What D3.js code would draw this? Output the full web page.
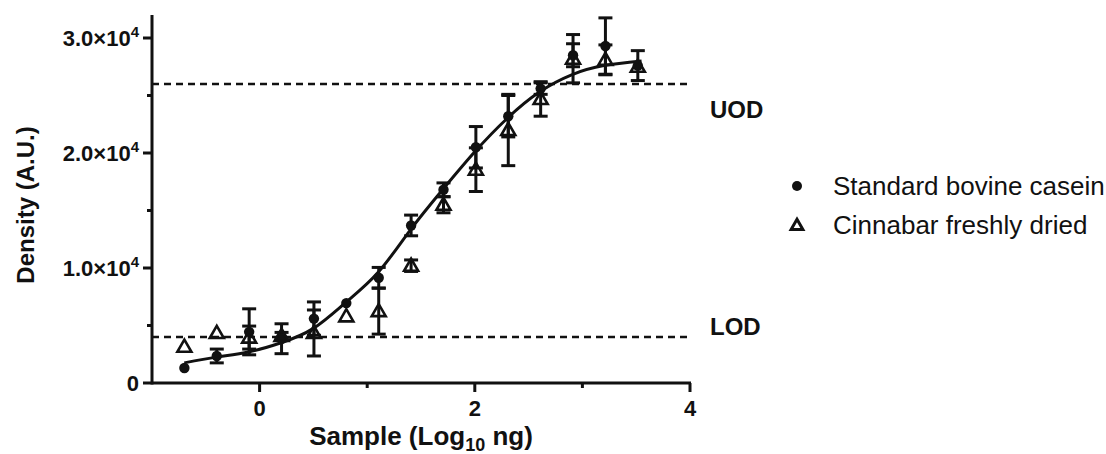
<html lang="en">
<head>
<meta charset="UTF-8">
<title>Density vs sample</title>
<style>
  body { margin: 0; background: #fff; }
  svg { display: block; }
  text { font-family: "Liberation Sans", Arial, sans-serif; fill: #111; }
</style>
</head>
<body>
<svg id="chart" width="1106" height="454"></svg>
<script src="https://d3js.org/d3.v7.min.js"></script>
<script>
// sample amounts, log10 ng
const sampleLog = [-0.699, -0.398, -0.097, 0.204, 0.505, 0.806, 1.107, 1.408, 1.709, 2.010, 2.311, 2.612, 2.913, 3.214, 3.515];
// standard bovine casein (mean, sd)
const caseinMean = [1300, 2350, 4450, 3850, 5600, 6950, 9150, 13700, 16800, 20500, 23200, 25600, 28500, 29300, 27600];
const caseinSD   = [0, 600, 2000, 1300, 1450, 0, 900, 900, 600, 1800, 1800, 500, 1000, 2450, 1300];
// cinnabar freshly dried (mean, sd)
const cinnabarMean = [3150, 4350, 3950, 4100, 4350, 5800, 6250, 10200, 15500, 18550, 22000, 24700, 28200, 28100, 27500];
const cinnabarSD   = [0, 0, 1000, 300, 2000, 0, 2000, 500, 700, 1900, 3100, 1500, 2100, 1300, 0];
// fitted curve
const fitX = [-0.70, -0.40, -0.10, 0.20, 0.50, 0.80, 1.10, 1.40, 1.70, 2.00, 2.30, 2.60, 2.90, 3.20, 3.55];
const fitY = [1750, 2250, 2700, 3500, 4750, 7000, 9600, 13300, 16800, 20100, 23000, 25300, 26800, 27600, 28000];
// limits
const limitNames = ["UOD", "LOD"];
const limitValues = [26000, 4000];
// ticks
const yMajor = [0, 10000, 20000, 30000];
const yMinor = [5000, 15000, 25000];
const xMajor = [0, 2, 4];
const xMinor = [1, 3];
const seriesNames = ["Standard bovine casein", "Cinnabar freshly dried"];

const svg = d3.select('#chart');
const x = d3.scaleLinear().domain([-1.0, 4]).range([152, 690]);
const y = d3.scaleLinear().domain([0, 32000]).range([383, 15]);
const SW = 3;

// axes
const g = svg.append('g');
g.append('line').attr('x1', x(-1)).attr('x2', x(-1)).attr('y1', y(32000)).attr('y2', y(0) + SW / 2)
  .attr('stroke', '#111').attr('stroke-width', SW);
g.append('line').attr('x1', x(-1)).attr('x2', x(4) + 1).attr('y1', y(0)).attr('y2', y(0))
  .attr('stroke', '#111').attr('stroke-width', SW);

g.selectAll('.ytick').data(yMajor).join('line')
  .attr('x1', x(-1) - 9).attr('x2', x(-1)).attr('y1', d => y(d)).attr('y2', d => y(d))
  .attr('stroke', '#111').attr('stroke-width', SW);
g.selectAll('.yminor').data(yMinor).join('line')
  .attr('x1', x(-1) - 5).attr('x2', x(-1)).attr('y1', d => y(d)).attr('y2', d => y(d))
  .attr('stroke', '#111').attr('stroke-width', SW);
g.selectAll('.xtick').data(xMajor).join('line')
  .attr('x1', d => x(d)).attr('x2', d => x(d)).attr('y1', y(0)).attr('y2', y(0) + 9)
  .attr('stroke', '#111').attr('stroke-width', SW);
g.selectAll('.xminor').data(xMinor).join('line')
  .attr('x1', d => x(d)).attr('x2', d => x(d)).attr('y1', y(0)).attr('y2', y(0) + 5)
  .attr('stroke', '#111').attr('stroke-width', SW);

// y tick labels
const yl = g.selectAll('.ylab').data(yMajor).join('text')
  .attr('x', x(-1) - 13).attr('y', d => y(d) + 8)
  .attr('text-anchor', 'end').attr('font-weight', 'bold').attr('font-size', 22);
yl.each(function(d) {
  const t = d3.select(this);
  if (d === 0) { t.text('0'); return; }
  t.append('tspan').text((d / 10000).toFixed(1) + '\u00d710');
  t.append('tspan').attr('dy', -9).attr('font-size', 15).text('4');
});

// x tick labels
g.selectAll('.xlab').data(xMajor).join('text')
  .attr('x', d => x(d)).attr('y', y(0) + 33)
  .attr('text-anchor', 'middle').attr('font-weight', 'bold').attr('font-size', 22)
  .text(d => d);

// axis titles
const xt = svg.append('text').attr('x', 421).attr('y', 445)
  .attr('text-anchor', 'middle').attr('font-weight', 'bold').attr('font-size', 26);
xt.append('tspan').text('Sample (Log');
xt.append('tspan').attr('font-size', 18).attr('dy', 6).text('10');
xt.append('tspan').attr('dy', -6).text(' ng)');

svg.append('text').attr('transform', 'translate(34,205) rotate(-90)')
  .attr('text-anchor', 'middle').attr('font-weight', 'bold').attr('font-size', 24)
  .text('Density (A.U.)');

// limit lines
svg.selectAll('.limit').data(limitValues).join('line')
  .attr('x1', x(-1)).attr('x2', x(4)).attr('y1', d => y(d)).attr('y2', d => y(d))
  .attr('stroke', '#111').attr('stroke-width', 2.5).attr('stroke-dasharray', '7,5');
svg.selectAll('.limitLab').data(limitNames).join('text')
  .attr('x', 710).attr('y', (d, i) => y(limitValues[i]) + (i === 0 ? 34 : -2))
  .attr('font-weight', 'bold').attr('font-size', 24).text(d => d);

// fitted curve
const fit = fitX.map((v, i) => [v, fitY[i]]);
svg.append('path').datum(fit)
  .attr('d', d3.line().x(d => x(d[0])).y(d => y(d[1])).curve(d3.curveNatural))
  .attr('fill', 'none').attr('stroke', '#111').attr('stroke-width', SW);

// error bars
function errorBars(mean, sd) {
  const rows = sampleLog.map((v, i) => ({ x: v, m: mean[i], s: sd[i] })).filter(d => d.s > 0);
  const eg = svg.append('g').attr('stroke', '#111').attr('stroke-width', SW);
  rows.forEach(d => {
    eg.append('line').attr('x1', x(d.x)).attr('x2', x(d.x)).attr('y1', y(d.m - d.s)).attr('y2', y(d.m + d.s));
    [d.m - d.s, d.m + d.s].forEach(v => {
      eg.append('line').attr('x1', x(d.x) - 7).attr('x2', x(d.x) + 7).attr('y1', y(v)).attr('y2', y(v));
    });
  });
}
errorBars(caseinMean, caseinSD);
errorBars(cinnabarMean, cinnabarSD);

// markers
const tri = d3.symbol().type(d3.symbolTriangle).size(85);
svg.selectAll('.dot').data(caseinMean).join('circle')
  .attr('cx', (d, i) => x(sampleLog[i])).attr('cy', d => y(d)).attr('r', 5.2).attr('fill', '#111');
svg.selectAll('.tri').data(cinnabarMean).join('path')
  .attr('d', tri).attr('transform', (d, i) => `translate(${x(sampleLog[i])},${y(d) + 1})`)
  .attr('fill', 'none').attr('stroke', '#111').attr('stroke-width', 2.6);

// legend
const lg = svg.append('g').attr('transform', 'translate(797,186)');
lg.append('circle').attr('r', 5).attr('fill', '#111');
lg.append('path').attr('d', d3.symbol().type(d3.symbolTriangle).size(60)).attr('transform', 'translate(0,40)')
  .attr('fill', 'none').attr('stroke', '#111').attr('stroke-width', 3);
lg.selectAll('text').data(seriesNames).join('text')
  .attr('x', 36).attr('y', (d, i) => 9 + i * 39).attr('font-size', 26).text(d => d);
</script>
</body>
</html>
